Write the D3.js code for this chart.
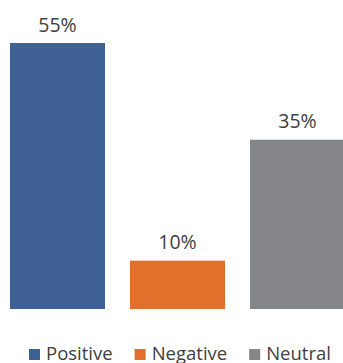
<!DOCTYPE html>
<html><head><meta charset="utf-8">
<script src="https://cdn.jsdelivr.net/npm/d3@7"></script>
<style>html,body{margin:0;padding:0;background:#fff;overflow:hidden}</style>
</head><body>
<svg id="c" width="343" height="363"></svg>
<script>
const categories = ["Positive", "Negative", "Neutral"];
const values = [55, 10, 35];
const colors = ["#3E6095", "#E0702B", "#858689"];

const svg = d3.select("#c");
const font = "'Open Sans', sans-serif";
const x = d3.scaleBand().domain(categories).range([-2.5, 357.5])
  .paddingInner(25/120).paddingOuter(25/240);
const y = d3.scaleLinear().domain([0, 55]).range([309, 43]);

svg.selectAll("rect.bar").data(categories).join("rect")
  .attr("class","bar")
  .attr("x", d => x(d)).attr("width", x.bandwidth())
  .attr("y", (d,i) => y(values[i])).attr("height", (d,i) => y(0) - y(values[i]))
  .attr("fill", (d,i) => colors[i]);

svg.selectAll("text.lbl").data(categories).join("text")
  .attr("class","lbl")
  .attr("x", d => x(d) + x.bandwidth()/2)
  .attr("y", (d,i) => y(values[i]) - 11.5)
  .attr("text-anchor","middle")
  .attr("font-family", font).attr("font-size", 19.5).attr("fill","#404040")
  .text((d,i) => values[i] + "%");

const lg = svg.append("g");
let cx = 29;
categories.forEach((c,i) => {
  lg.append("rect").attr("x", cx).attr("y", 349).attr("width", 11).attr("height", 11).attr("fill", colors[i]);
  const t = lg.append("text").attr("x", cx + 17).attr("y", 359.5)
    .attr("font-family", font).attr("font-size", 18.5).attr("fill","#404040").text(c);
  cx += 17 + t.node().getComputedTextLength() + 22;
});
</script>
</body></html>
